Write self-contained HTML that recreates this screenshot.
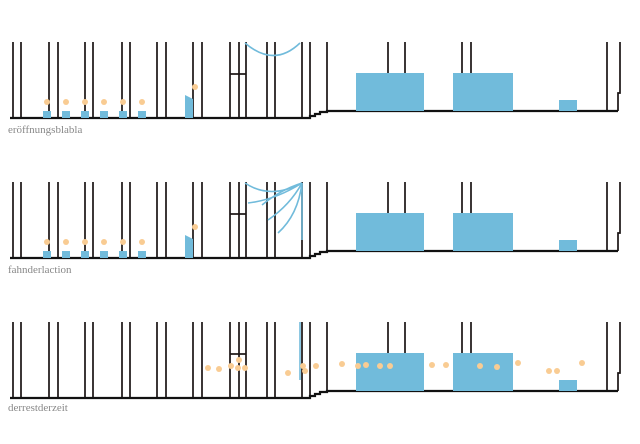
<!DOCTYPE html>
<html><head><meta charset="utf-8"><style>
html,body{margin:0;padding:0;background:#fff;width:640px;height:444px;overflow:hidden}
svg{display:block}
text{font-family:"Liberation Serif",serif;font-size:11px;fill:#888}
</style></head><body>
<svg width="640" height="444" viewBox="0 0 640 444">
<defs>
<g id="base">
 <g stroke="#1a1414" stroke-width="1.7" fill="none">
  <path d="M13 42V118M21 42V118M49 42V118M58 42V118M85 42V118M93 42V118M122 42V118M130 42V118M157 42V118M166 42V118M193 42V118M202 42V118M230 42V118M239 42V118M246 42V118M267 42V118M275 42V118M302 42V118M310 42V118M327 42V111M388 42V73M405 42V73M462 42V73M471 42V73M607 42V111"/>
  <path d="M230 74H246" />
  <path d="M620 42V93H618V111" />
 </g>
 <path d="M10 118H310V116H315V114H320V112H327V111H618" stroke="#111" stroke-width="2.2" fill="none"/>
 <g fill="#71bbdb">
  <rect x="356" y="73" width="68" height="38"/>
  <rect x="453" y="73" width="60" height="38"/>
  <rect x="559" y="100" width="18" height="11"/>
 </g>
</g>
<g id="bars">
 <g fill="#71bbdb">
  <rect x="43" y="111" width="8" height="7"/><rect x="62" y="111" width="8" height="7"/>
  <rect x="81" y="111" width="8" height="7"/><rect x="100" y="111" width="8" height="7"/>
  <rect x="119" y="111" width="8" height="7"/><rect x="138" y="111" width="8" height="7"/>
  <path d="M185 95L193 99V118H185Z"/>
 </g>
 <g fill="#f9cc93">
  <circle cx="47" cy="102" r="3"/><circle cx="66" cy="102" r="3"/><circle cx="85" cy="102" r="3"/>
  <circle cx="104" cy="102" r="3"/><circle cx="123" cy="102" r="3"/><circle cx="142" cy="102" r="3"/>
  <circle cx="195" cy="87" r="3"/>
 </g>
</g>
</defs>
<use href="#base"/>
<use href="#bars"/>
<path d="M245 43Q274 68 300 43" stroke="#71bbdb" stroke-width="1.6" fill="none"/>
<text x="8" y="133">eröffnungsblabla</text>

<use href="#base" transform="translate(0,140)"/>
<use href="#bars" transform="translate(0,140)"/>
<g stroke="#71bbdb" stroke-width="1.6" fill="none">
 <path d="M302 183Q270 200 245 183"/>
 <path d="M302 183Q275 200 248 203"/>
 <path d="M302 183Q280 190 262 205"/>
 <path d="M302 183Q290 205 268 220"/>
 <path d="M302 183Q298 215 278 233"/>
 <path d="M302 183V240"/>
</g>
<text x="8" y="273">fahnderlaction</text>

<use href="#base" transform="translate(0,280)"/>
<path d="M300 322V380" stroke="#71bbdb" stroke-width="1.6"/>
<g fill="#f9cc93">
 <circle cx="208" cy="368" r="3"/><circle cx="219" cy="369" r="3"/><circle cx="231" cy="366" r="3"/>
 <circle cx="239" cy="360" r="3"/><circle cx="238" cy="368" r="3"/><circle cx="245" cy="368" r="3"/>
 <circle cx="288" cy="373" r="3"/><circle cx="303" cy="366" r="3"/><circle cx="305" cy="371" r="3"/>
 <circle cx="316" cy="366" r="3"/><circle cx="342" cy="364" r="3"/><circle cx="358" cy="366" r="3"/>
 <circle cx="366" cy="365" r="3"/><circle cx="380" cy="366" r="3"/><circle cx="390" cy="366" r="3"/>
 <circle cx="432" cy="365" r="3"/><circle cx="446" cy="365" r="3"/><circle cx="480" cy="366" r="3"/>
 <circle cx="497" cy="367" r="3"/><circle cx="518" cy="363" r="3"/><circle cx="549" cy="371" r="3"/>
 <circle cx="557" cy="371" r="3"/><circle cx="582" cy="363" r="3"/>
</g>
<text x="8" y="411">derrestderzeit</text>
</svg>
</body></html>
